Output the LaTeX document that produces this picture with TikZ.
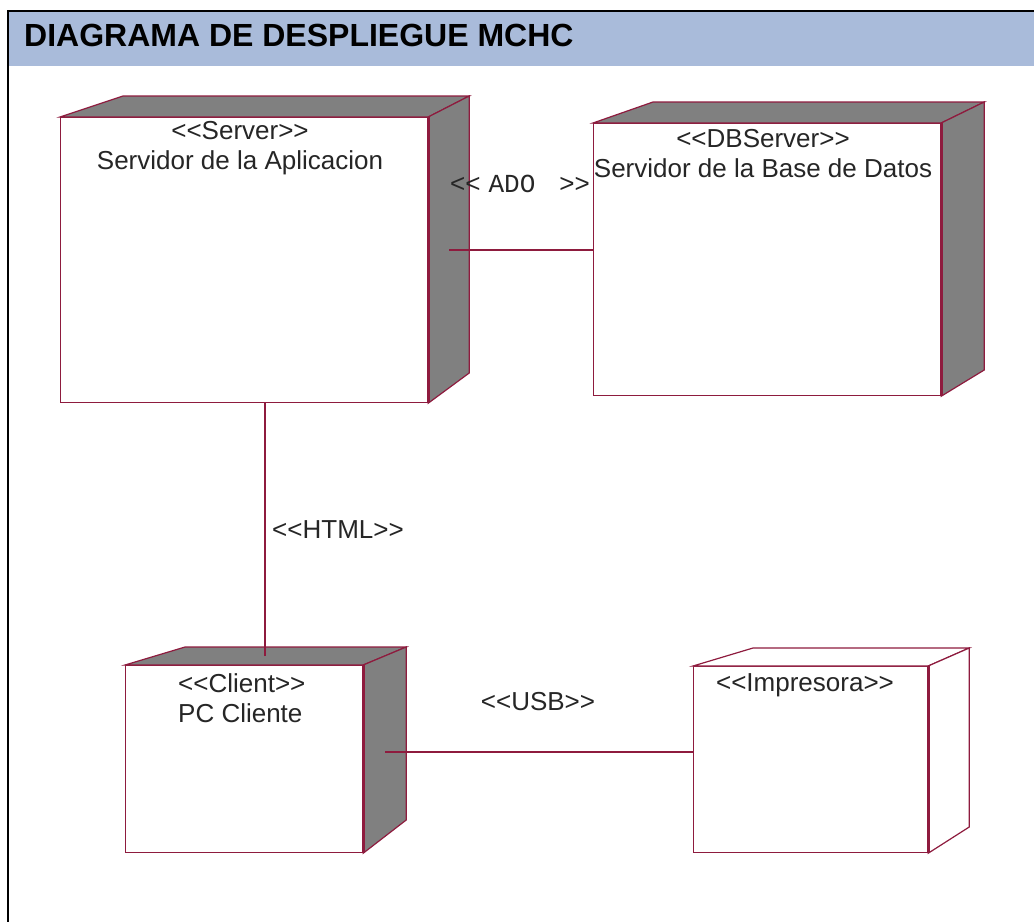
\documentclass[tikz,border=0pt]{standalone}
\usepackage{fontspec}
\setmainfont{Liberation Sans}
\newfontfamily\umlfont{Liberation Sans}
\newfontfamily\adofont{Liberation Mono}
\usetikzlibrary{calc}
\definecolor{hdrblue}{HTML}{A9BBDA}
\definecolor{umlred}{HTML}{8E1B3E}
\definecolor{sidegray}{HTML}{808080}

\begin{document}
\begin{tikzpicture}[x=1pt,y=-1pt,
    front/.style={draw=umlred,line width=1.2pt,fill=white,anchor=north west,inner sep=0pt},
    face/.style={draw=umlred,line width=1.2pt,fill=sidegray},
    blankface/.style={draw=umlred,line width=1.2pt,fill=white},
    rim/.style={umlred,line width=3pt},
    lbl/.style={font=\umlfont\fontsize{26}{30}\selectfont,text=black!85,inner sep=0pt,align=center},
    link/.style={umlred,line width=1.2pt}]
    \useasboundingbox (0,0) rectangle (1034,922);
    % header
    \fill[hdrblue] (8,11) rectangle (1034,66);
    \draw[black,line width=2pt] (1034,11) -- (8,11) -- (8,922);
    \node[font=\bfseries\fontsize{32}{36}\selectfont,anchor=west,inner sep=0pt] (title) at (24,35) {DIAGRAMA DE DESPLIEGUE MCHC};
    % nodes (front faces)
    \node[front,minimum width=367pt,minimum height=285pt] (srv) at (60,117) {};
    \node[front,minimum width=347pt,minimum height=272pt] (db) at (593,123) {};
    \node[front,minimum width=237pt,minimum height=187pt] (cl) at (125,665) {};
    \node[front,minimum width=234pt,minimum height=186pt] (prn) at (693,666) {};
    % top and side faces
    \draw[face] (srv.north west) -- ++(63,-21) -- ($(srv.north east)+(41,-21)$) -- (srv.north east) -- cycle;
    \draw[face] (srv.north east) -- ++(41,-21) -- ++(0,277) -- (srv.south east) -- cycle;
    \draw[face] (db.north west) -- ++(60,-21) -- ($(db.north east)+(43,-21)$) -- (db.north east) -- cycle;
    \draw[face] (db.north east) -- ++(43,-21) -- ++(0,268) -- (db.south east) -- cycle;
    \draw[face] (cl.north west) -- ++(60,-18) -- ($(cl.north east)+(43,-18)$) -- (cl.north east) -- cycle;
    \draw[face] (cl.north east) -- ++(43,-18) -- ++(0,173) -- (cl.south east) -- cycle;
    \draw[blankface] (prn.north west) -- ++(60,-18) -- ($(prn.north east)+(41,-18)$) -- (prn.north east) -- cycle;
    \draw[blankface] (prn.north east) -- ++(41,-18) -- ++(0,179) -- (prn.south east) -- cycle;
    \draw[rim] (srv.north east) -- (srv.south east);
    \draw[rim] (db.north east) -- (db.south east);
    \draw[rim] (cl.north east) -- (cl.south east);
    \draw[rim] (prn.north east) -- (prn.south east);
    % labels
    \node[lbl] (srvlbl) at (240,148) {<<Server>>\\Servidor de la Aplicacion};
    \node[lbl] (dblbl) at (763,154) {<<DBServer>>\\Servidor de la Base de Datos};
    \node[lbl,align=left,anchor=west] (cllbl) at (178,698) {<<Client>>\\PC Cliente};
    \node[lbl] (prnlbl) at (805,685) {<<Impresora>>};
    % connectors
    \coordinate (srvside) at ($(srv.north east)+(21,133)$);
    \coordinate (cltop) at ($(cl.north west)+(140,-9)$);
    \coordinate (clside) at ($(cl.north east)+(22,87)$);
    \draw[link] (srvside) -- (srvside -| db.west);
    \draw[link] (cltop) -- (cltop |- srv.south);
    \draw[link] (clside) -- (clside -| prn.west);
    \node[lbl,anchor=west] (ado) at (450,184) {<<\hspace{8pt}{\adofont\fontsize{26}{30}\selectfont ADO}\hspace{24pt}>>};
    \node[lbl] (html) at (338,530) {<<HTML>>};
    \node[lbl] (usb) at (538,702) {<<USB>>};
\end{tikzpicture}
\end{document}
